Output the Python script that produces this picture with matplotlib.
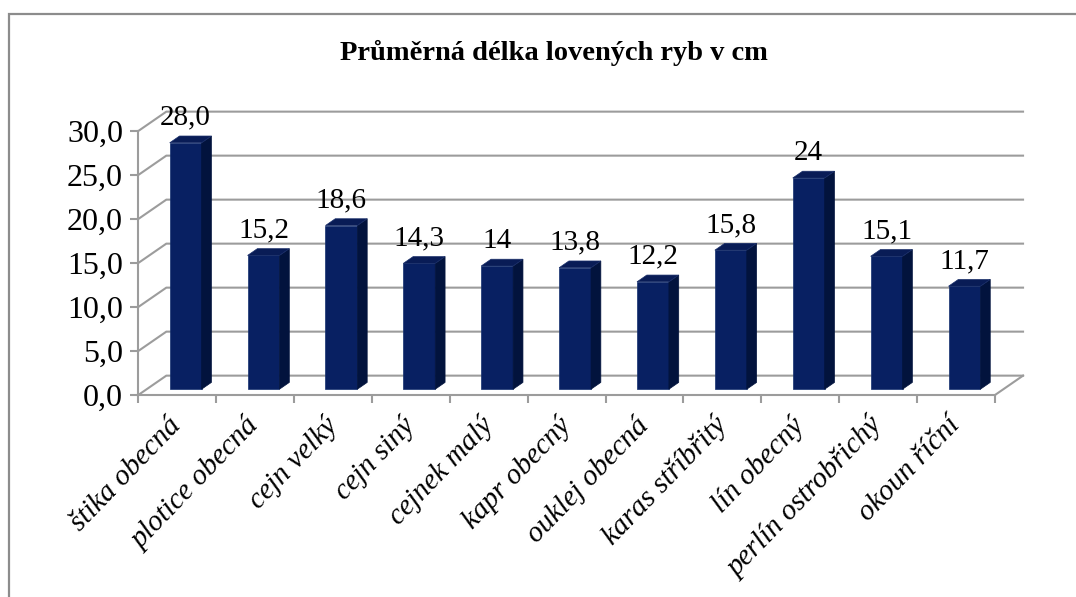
"""Average length of caught fish (cm) - Excel-style pseudo-3D column chart."""

import matplotlib
matplotlib.use("Agg")
import matplotlib.pyplot as plt
from matplotlib.patches import Polygon, Rectangle
import numpy as np

# data
fish = ["štika obecná", "plotice obecná", "cejn velký", "cejn siný", "cejnek malý",
        "kapr obecný", "ouklej obecná", "karas stříbřitý", "lín obecný",
        "perlín ostrobřichý", "okoun říční"]
lengths = [28.0, 15.2, 18.6, 14.3, 14.0, 13.8, 12.2, 15.8, 24.0, 15.1, 11.7]
value_labels = ["28,0", "15,2", "18,6", "14,3", "14", "13,8", "12,2", "15,8", "24", "15,1", "11,7"]
yticks = [0, 5, 10, 15, 20, 25, 30]

title = "Průměrná délka lovených ryb v cm"

plt.rcParams["font.family"] = ["Liberation Serif", "DejaVu Serif"]

W, H = 1076, 597
fig = plt.figure(figsize=(W / 100, H / 100), dpi=100)

# outer chart border (right/bottom edges fall outside the picture)
fig.add_artist(Rectangle((9 / W, -0.1), 1.2, (H - 14) / H + 0.1, transform=fig.transFigure,
                         fill=False, ec="#8c8c8c", lw=1.6))

ax = fig.add_axes([138.3 / W, (H - 395) / H, (995 - 138.3) / W, (395 - 131) / H])
n = len(fish)
ax.set_xlim(0, n)
ax.set_ylim(0, 30)
ax.patch.set_visible(False)

DX, DY = 0.36, 2.2          # depth of the "3D" floor in data units
grid_c = "#9c9c9c"

# back wall gridlines with the diagonals running back from the front axis
for t in yticks:
    ax.plot([0, DX, n + DX], [t, t + DY, t + DY], color=grid_c, lw=1.5,
            clip_on=False, zorder=1)
# floor edges
ax.plot([n, n + DX], [0, DY], color=grid_c, lw=1.5, clip_on=False, zorder=1)

# bars: front face through ax.bar, side and top faces as polygons
f0, f1 = 0.3, 0.65
bw = 0.41
x = np.arange(n) + 0.5
front_c, side_c, top_c = "#082062", "#02133d", "#091c56"
bars = ax.bar(x + f0 * DX, lengths, width=bw, bottom=f0 * DY, color=front_c,
              edgecolor="#14306e", lw=0.5, zorder=3, clip_on=False)
d = f1 - f0
for rect, v, lab in zip(bars, lengths, value_labels):
    xl = rect.get_x()
    xr = xl + rect.get_width()
    b = rect.get_y()
    top = b + v
    side = Polygon([(xr, b), (xr + d * DX, b + d * DY), (xr + d * DX, top + d * DY), (xr, top)],
                   closed=True, fc=side_c, ec=side_c, lw=0.5, zorder=3, clip_on=False)
    lid = Polygon([(xl, top), (xl + d * DX, top + d * DY), (xr + d * DX, top + d * DY), (xr, top)],
                  closed=True, fc=top_c, ec="#1a2f6a", lw=0.5, zorder=3, clip_on=False)
    ax.add_patch(side)
    ax.add_patch(lid)
    ax.annotate(lab, (xl + rect.get_width() / 2, top), xytext=(0, 13),
                textcoords="offset points", ha="center", va="baseline",
                fontsize=21, color="black", zorder=4, annotation_clip=False)

# axes: front value axis and front floor edge
for s in ["top", "right"]:
    ax.spines[s].set_visible(False)
for s in ["left", "bottom"]:
    ax.spines[s].set_color(grid_c)
    ax.spines[s].set_linewidth(1.5)
    ax.spines[s].set_zorder(2)

ax.set_yticks(yticks)
ax.set_yticklabels([f"{t:.1f}".replace(".", ",") for t in yticks], fontsize=23)
ax.tick_params(axis="y", length=6, width=1.5, color=grid_c, pad=5)

ax.set_xticks(np.arange(n + 1))
ax.set_xticklabels([])
ax.set_xticks(x, minor=True)
ax.set_xticklabels(fish, minor=True, rotation=46, ha="right", va="center",
                   rotation_mode="anchor", fontsize=21, style="italic")
ax.tick_params(axis="x", which="major", length=6, width=1.5, color=grid_c)
ax.tick_params(axis="x", which="minor", length=0, pad=19)

fig.text(554 / W, 1 - 53 / H, title, ha="center", va="center",
         fontsize=20.5, fontweight="bold")

fig.savefig("out.png", dpi=100)
